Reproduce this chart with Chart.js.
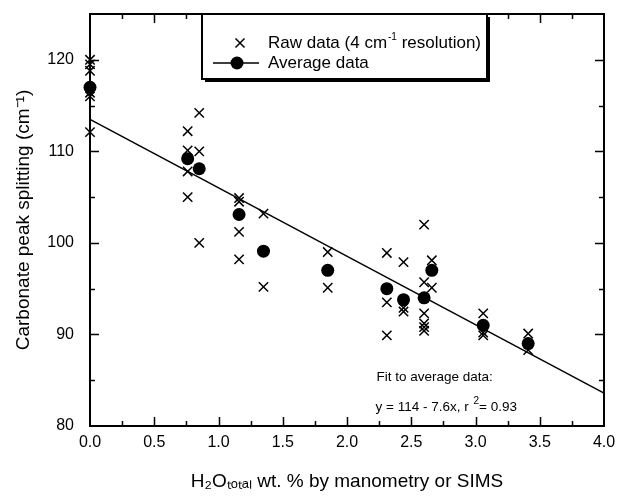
<!DOCTYPE html>
<html>
<head>
<meta charset="utf-8">
<script src="https://cdn.jsdelivr.net/npm/chart.js@4.4.1/dist/chart.umd.min.js"></script>
<style>
  html, body { margin: 0; padding: 0; background: #fff; }
  #wrap { width: 618px; height: 501px; position: relative; }
</style>
</head>
<body>
<div id="wrap"><canvas id="c" width="618" height="501"></canvas></div>
<script>
// ---- data ----
const rawX = [0, 0, 0, 0, 0, 0,
  0.76, 0.76, 0.76, 0.76,
  0.85, 0.85, 0.85,
  1.16, 1.16, 1.16, 1.16,
  1.35, 1.35,
  1.85, 1.85,
  2.31, 2.31, 2.31,
  2.44, 2.44, 2.44,
  2.60, 2.60, 2.60, 2.60, 2.60, 2.60,
  2.66, 2.66,
  3.06, 3.06, 3.06,
  3.41, 3.41];
const rawY = [120.0, 119.5, 118.8, 116.4, 116.0, 112.1,
  112.2, 110.1, 107.8, 105.0,
  114.2, 110.0, 100.0,
  104.9, 104.5, 101.2, 98.2,
  103.2, 95.2,
  99.0, 95.1,
  98.9, 93.5, 89.9,
  97.9, 92.9, 92.5,
  102.0, 95.7, 92.3, 91.2, 90.8, 90.4,
  98.1, 95.1,
  92.3, 90.2, 89.9,
  90.1, 88.3];
const avgX = [0, 0.76, 0.85, 1.16, 1.35, 1.85, 2.31, 2.44, 2.60, 2.66, 3.06, 3.41];
const avgY = [117.0, 109.2, 108.1, 103.1, 99.1, 97.0, 95.0, 93.8, 94.0, 97.0, 91.0, 89.0];
const fitX = [0, 4];
const fitY = [113.5, 83.6];
const xTickValues = [0, 0.5, 1.0, 1.5, 2.0, 2.5, 3.0, 3.5, 4.0];
const yTickValues = [80, 90, 100, 110, 120];
const rawLabel = ['Raw data (4 cm', '-1', ' resolution)'];
const avgLabel = 'Average data';
const fitText1 = 'Fit to average data:';
const fitText2 = ['y = 114 - 7.6x, r ', '2', '= 0.93'];

const FONT = '"Liberation Sans", Arial, sans-serif';

const toPts = (xs, ys) => xs.map((x, i) => ({ x: x, y: ys[i] }));

// draw frame, inward ticks on all four sides, legend and fit annotation
const decor = {
  id: 'decor',
  afterDraw(chart) {
    const ctx = chart.ctx;
    const a = chart.chartArea;
    const xs = chart.scales.x, ys = chart.scales.y;
    ctx.save();
    ctx.strokeStyle = '#000';
    ctx.fillStyle = '#000';
    // ticks
    ctx.lineWidth = 1.5;
    ctx.beginPath();
    for (let i = 1; i < 16; i++) {
      const v = i * 0.25;
      const px = Math.round(xs.getPixelForValue(v)) + 0.5;
      const len = (i % 2 === 0) ? 9 : 5;
      ctx.moveTo(px, a.bottom); ctx.lineTo(px, a.bottom - len);
      ctx.moveTo(px, a.top); ctx.lineTo(px, a.top + len);
    }
    for (let i = 1; i < 9; i++) {
      const v = 80 + i * 5;
      const py = Math.round(ys.getPixelForValue(v)) + 0.5;
      const len = (i % 2 === 0) ? 9 : 5;
      ctx.moveTo(a.left, py); ctx.lineTo(a.left + len, py);
      ctx.moveTo(a.right, py); ctx.lineTo(a.right - len, py);
    }
    ctx.stroke();
    // frame
    ctx.lineWidth = 2;
    ctx.strokeRect(a.left, a.top, a.right - a.left, a.bottom - a.top);

    // legend box
    const lx = 202, ly = a.top, lw = 285, lh = 65;
    ctx.fillStyle = '#000';
    ctx.fillRect(lx + 3, ly + lh, lw, 3);
    ctx.fillRect(lx + lw, ly + 3, 3, lh);
    ctx.fillStyle = '#fff';
    ctx.fillRect(lx, ly, lw, lh);
    ctx.lineWidth = 2;
    ctx.strokeRect(lx, ly, lw, lh);
    ctx.fillStyle = '#000';
    // row 1: cross marker
    ctx.lineWidth = 1.5;
    const r1y = ly + 29, cx1 = 240;
    ctx.beginPath();
    ctx.moveTo(cx1 - 4.5, r1y - 4.5); ctx.lineTo(cx1 + 4.5, r1y + 4.5);
    ctx.moveTo(cx1 + 4.5, r1y - 4.5); ctx.lineTo(cx1 - 4.5, r1y + 4.5);
    ctx.stroke();
    ctx.textBaseline = 'middle';
    ctx.textAlign = 'left';
    let tx = 268;
    ctx.font = '17px ' + FONT;
    ctx.fillText(rawLabel[0], tx, r1y);
    tx += ctx.measureText(rawLabel[0]).width + 1;
    ctx.font = '10px ' + FONT;
    ctx.fillText(rawLabel[1], tx, r1y - 6);
    tx += ctx.measureText(rawLabel[1]).width;
    ctx.font = '17px ' + FONT;
    ctx.fillText(rawLabel[2], tx, r1y);
    // row 2: line + circle
    const r2y = ly + 49;
    ctx.lineWidth = 1.5;
    ctx.beginPath();
    ctx.moveTo(213, r2y); ctx.lineTo(259, r2y);
    ctx.stroke();
    ctx.beginPath();
    ctx.arc(237, r2y, 6.5, 0, Math.PI * 2);
    ctx.fill();
    ctx.fillText(avgLabel, 268, r2y);

    // fit annotation
    ctx.font = '13.5px ' + FONT;
    const fx = xs.getPixelForValue(2.23);
    const fy1 = ys.getPixelForValue(85.3);
    const fy2 = ys.getPixelForValue(82.0);
    ctx.fillText(fitText1, fx, fy1);
    let fx2 = fx - 1;
    ctx.fillText(fitText2[0], fx2, fy2);
    fx2 += ctx.measureText(fitText2[0]).width + 1;
    ctx.font = '10px ' + FONT;
    ctx.fillText(fitText2[1], fx2, fy2 - 6);
    fx2 += ctx.measureText(fitText2[1]).width;
    ctx.font = '13.5px ' + FONT;
    ctx.fillText(fitText2[2], fx2, fy2);
    ctx.restore();
  }
};

new Chart(document.getElementById('c'), {
  type: 'scatter',
  data: {
    datasets: [
      {
        type: 'line',
        label: 'Fit',
        data: toPts(fitX, fitY),
        borderColor: '#000',
        borderWidth: 1.5,
        pointRadius: 0,
        fill: false,
        clip: false,
        order: 3
      },
      {
        label: 'Raw data (4 cm⁻¹ resolution)',
        data: toPts(rawX, rawY),
        pointStyle: 'crossRot',
        pointRadius: 6.6,
        borderColor: '#000',
        borderWidth: 1.5,
        backgroundColor: '#000',
        clip: false,
        order: 2
      },
      {
        label: 'Average data',
        data: toPts(avgX, avgY),
        pointStyle: 'circle',
        pointRadius: 6.5,
        borderWidth: 0,
        backgroundColor: '#000',
        borderColor: '#000',
        clip: false,
        order: 1
      }
    ]
  },
  options: {
    responsive: false,
    animation: false,
    layout: { padding: { left: 0, right: 14, top: 14, bottom: 0 } },
    plugins: { legend: { display: false }, tooltip: { enabled: false } },
    scales: {
      x: {
        type: 'linear',
        min: 0, max: 4,
        afterBuildTicks: s => { s.ticks = xTickValues.map(v => ({ value: v })); },
        afterFit: s => { s.height = 75; s.paddingLeft = 0; s.paddingRight = 0; },
        grid: { display: false, drawTicks: false },
        border: { display: false },
        ticks: {
          color: '#000',
          padding: 7,
          maxRotation: 0,
          font: { family: FONT, size: 16 },
          callback: v => Number(v).toFixed(1)
        },
        title: {
          display: true,
          text: 'H₂Oₜₒₜₐₗ wt. % by manometry or SIMS',
          color: '#000',
          font: { family: FONT, size: 19 },
          padding: { top: 0, bottom: 8 }
        }
      },
      y: {
        type: 'linear',
        min: 80, max: 125,
        afterBuildTicks: s => { s.ticks = yTickValues.map(v => ({ value: v })); },
        afterFit: s => { s.width = 90; s.paddingTop = 0; s.paddingBottom = 0; },
        grid: { display: false, drawTicks: false },
        border: { display: false },
        ticks: {
          color: '#000',
          padding: 16,
          font: { family: FONT, size: 16 },
          callback: v => String(v)
        },
        title: {
          display: true,
          text: 'Carbonate peak splitting (cm⁻¹)',
          color: '#000',
          font: { family: FONT, size: 19 },
          padding: { top: 12, bottom: 0 }
        }
      }
    }
  },
  plugins: [decor]
});
</script>
</body>
</html>
